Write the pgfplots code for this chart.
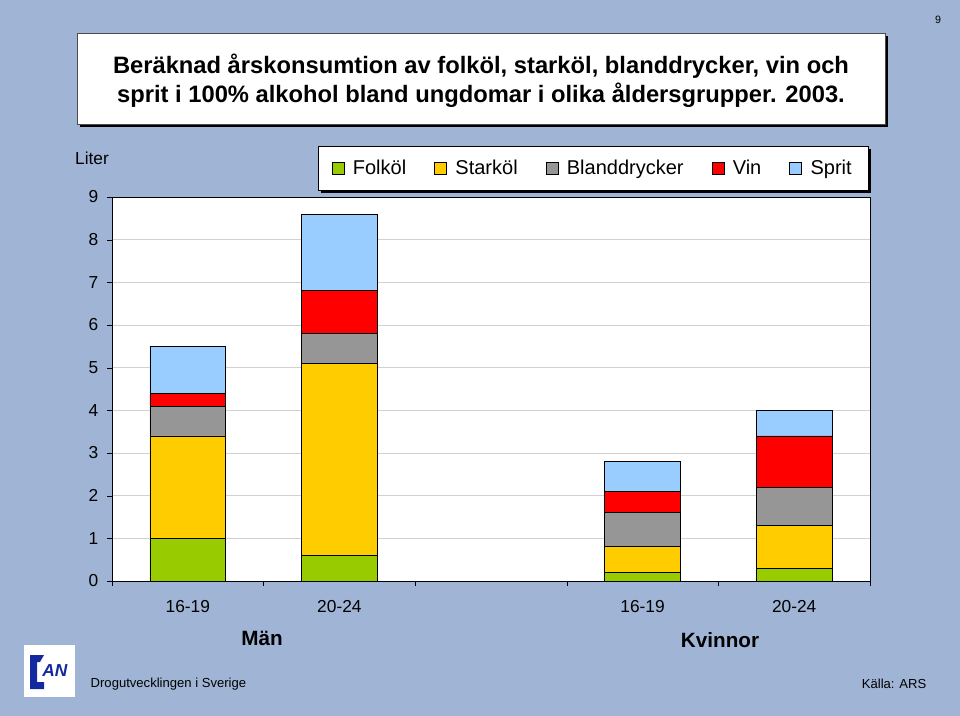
\documentclass[border=0pt]{standalone}
\usepackage{pgfplots}
\pgfplotsset{compat=1.18}
\usepackage{pgfplotstable}
\usepackage{fontspec}
\setmainfont{Liberation Sans}
\definecolor{bg}{RGB}{160,181,214}
\definecolor{cfolk}{RGB}{153,204,0}
\definecolor{cstark}{RGB}{255,204,0}
\definecolor{cbland}{RGB}{150,150,150}
\definecolor{cvin}{RGB}{255,0,0}
\definecolor{csprit}{RGB}{153,204,255}
\definecolor{logoblue}{RGB}{20,40,160}
\pgfplotstableread{
x folk stark bland vin sprit
0 1.0 2.4 0.7 0.3 1.1
1 0.6 4.5 0.7 1.0 1.8
3 0.2 0.6 0.8 0.5 0.7
4 0.3 1.0 0.9 1.2 0.6
}\data
\begin{document}
\begin{tikzpicture}
\begin{scope}[x=0.75pt,y=-0.75pt]
\useasboundingbox (0,0) rectangle (960,716);
\fill[bg] (0,0) rectangle (960,716);
% title box
\fill[black] (80,36) rectangle (888,127);
\filldraw[fill=white,draw=black!70,line width=0.5pt] (77,33) rectangle (885,124);
\node[font=\fontsize{17.8}{21.75}\selectfont\bfseries, align=center] at (481,80.5)
  {Beräknad årskonsumtion av folköl, starköl, blanddrycker, vin och\\sprit i 100\% alkohol bland ungdomar i olika åldersgrupper. 2003.};
% legend frame
\fill[black] (321,149) rectangle (871,193);
\filldraw[fill=white,draw=black,line width=0.6pt] (318,146) rectangle (868,190);
\node[font=\fontsize{8}{9}\selectfont] at (938,20) {9};
\node[font=\fontsize{13}{15}\selectfont] at (92,158) {Liter};
\node[font=\fontsize{15.5}{18}\selectfont\bfseries] at (262,638) {Män};
\node[font=\fontsize{15.5}{18}\selectfont\bfseries] at (720,640) {Kvinnor};
\node[font=\fontsize{9.8}{11}\selectfont, anchor=west] at (86,684) {Drogutvecklingen i Sverige};
\node[font=\fontsize{9.8}{11}\selectfont, anchor=east] at (931,684) {Källa: ARS};
% logo
\fill[white] (24,645) rectangle (75,697);
\fill[logoblue] (30,655) -- (44,655) -- (40,662) -- (37,662) -- (37,682) -- (44,682) -- (44,689) -- (30,689) -- cycle;
\node[font=\fontsize{13}{14}\selectfont\bfseries\itshape, text=logoblue, inner sep=0pt] at (55,671) {AN};
\end{scope}
\begin{axis}[
  at={(84pt,-435.75pt)}, anchor=south west,
  width=568.5pt, height=288pt, scale only axis,
  xmin=-0.5, xmax=4.5, ymin=0, ymax=9,
  axis background/.style={fill=white},
  axis line style={black, line width=0.6pt},
  ybar stacked, bar width=0.5,
  ytick={0,...,9},
  ymajorgrids, grid style={black!18, line width=0.5pt},
  xtick={0,1,3,4}, xticklabels={16-19,20-24,16-19,20-24},
  xtick pos=bottom, ytick pos=left,
  tick align=outside, major tick length=3.75pt,
  xtick style={draw=none},
  extra x ticks={-0.5,0.5,1.5,2.5,3.5,4.5},
  extra x tick labels={},
  extra x tick style={xtick style={draw=black}},
  ytick style={draw=black},
  /pgf/number format/assume math mode=true,
  ticklabel style={font=\fontsize{13}{15}\selectfont},
  yticklabel style={xshift=-3pt},
  xticklabel style={yshift=-7pt},
  legend columns=5,
  legend cell align=left,
  legend style={at={(0.6346,1.0755)}, anchor=center, draw=none, fill=none,
    font=\fontsize{15}{17}\selectfont, inner xsep=8pt, inner ysep=6pt,
    /tikz/every odd column/.append style={column sep=4.5pt},
    /tikz/every even column/.append style={column sep=19pt}},
  legend image code/.code={\draw[#1,draw=black,line width=0.4pt] (0pt,-4.5pt) rectangle (9pt,4.5pt);},
  every axis plot/.append style={draw=black, line width=0.6pt},
]
\addplot[fill=cfolk] table[x=x,y=folk]{\data};
\addplot[fill=cstark] table[x=x,y=stark]{\data};
\addplot[fill=cbland] table[x=x,y=bland]{\data};
\addplot[fill=cvin] table[x=x,y=vin]{\data};
\addplot[fill=csprit] table[x=x,y=sprit]{\data};
\legend{Folköl,Starköl,Blanddrycker,Vin,Sprit}
\end{axis}
\end{tikzpicture}
\end{document}
